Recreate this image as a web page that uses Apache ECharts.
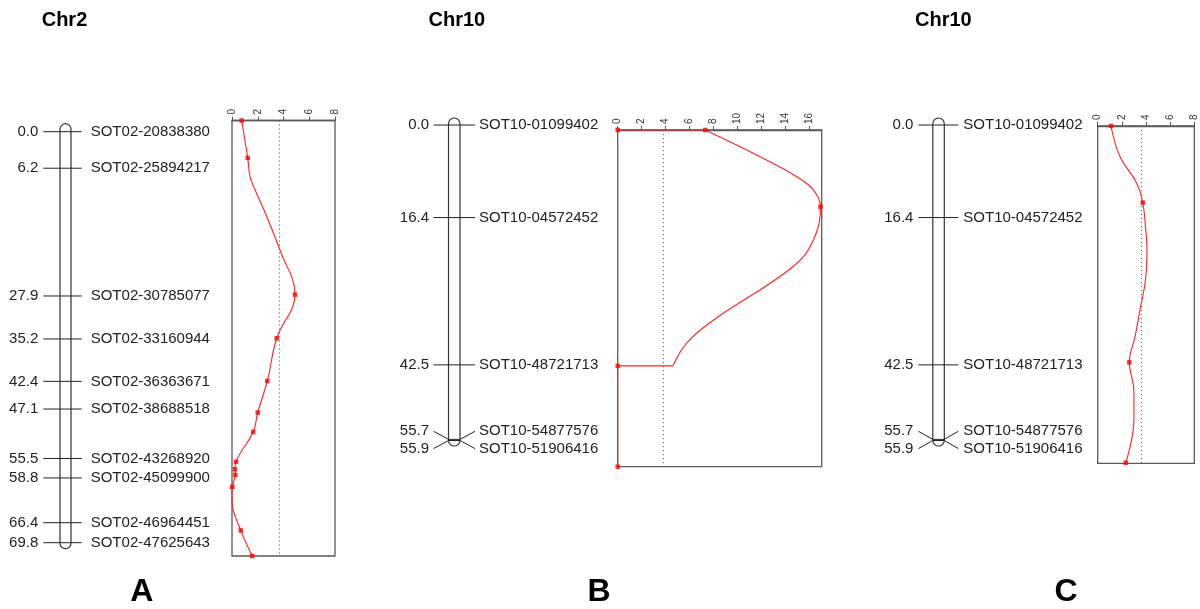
<!DOCTYPE html>
<html><head><meta charset="utf-8">
<script src="https://cdn.jsdelivr.net/npm/echarts@6/dist/echarts.min.js"></script>
<style>html,body{margin:0;padding:0;background:#fff}#c{width:1200px;height:609px}</style>
</head><body><div id="c"></div>
<script>
// ---------- data ----------
const chrTitles = ['Chr2', 'Chr10', 'Chr10'];
const panelLetters = ['A', 'B', 'C'];

const chrA_pos = [0.0, 6.2, 27.9, 35.2, 42.4, 47.1, 55.5, 58.8, 66.4, 69.8];
const chrA_names = ['SOT02-20838380', 'SOT02-25894217', 'SOT02-30785077', 'SOT02-33160944', 'SOT02-36363671',
  'SOT02-38688518', 'SOT02-43268920', 'SOT02-45099900', 'SOT02-46964451', 'SOT02-47625643'];
const chrB_pos = [0.0, 16.4, 42.5, 55.7, 55.9];
const chrB_names = ['SOT10-01099402', 'SOT10-04572452', 'SOT10-48721713', 'SOT10-54877576', 'SOT10-51906416'];
const chrC_pos = [0.0, 16.4, 42.5, 55.7, 55.9];
const chrC_names = ['SOT10-01099402', 'SOT10-04572452', 'SOT10-48721713', 'SOT10-54877576', 'SOT10-51906416'];

// LOD scan points (dots) and the curve
const aDotPos = [0, 6.0, 27.9, 34.9, 41.75, 46.8, 49.9, 54.7, 55.9, 56.8, 58.7, 65.7, 69.8];
const aDotLod = [0.75, 1.22, 4.89, 3.47, 2.74, 2.0, 1.65, 0.31, 0.23, 0.26, 0.02, 0.68, 1.58];
const aCurvePos = [0, 6.0, 9.0, 11.1, 15.4, 20.8, 27.9, 34.9, 41.75, 46.8, 49.9, 54.7, 55.9, 56.8, 58.7, 61.0, 65.7, 69.8];
const aCurveLod = [0.75, 1.22, 1.40, 1.79, 2.70, 3.73, 4.89, 3.47, 2.74, 2.0, 1.65, 0.31, 0.23, 0.26, 0.02, 0.0, 0.68, 1.58];

const bDotPos = [0, 0, 13.85, 42.6, 60.8];
const bDotLod = [0, 7.3, 16.9, 0, 0];
const bCurvePos = [0, 0, 5.4, 8.4, 10.8, 13.85, 19.9, 24.7, 34.3, 38.5, 42.6, 42.6, 60.8];
const bCurveLod = [0, 7.3, 12.4, 14.9, 16.3, 16.9, 16.3, 14.6, 8.0, 5.75, 4.6, 0, 0];

const cDotPos = [0, 13.8, 42.6, 60.7];
const cDotLod = [1.1, 3.73, 2.62, 2.32];
const cCurvePos = [0, 5.5, 10.3, 13.8, 17.5, 22.4, 27.8, 33.2, 38.0, 42.6, 47.9, 53.0, 60.7];
const cCurveLod = [1.1, 1.84, 3.23, 3.73, 3.93, 4.08, 3.95, 3.5, 3.09, 2.62, 3.0, 3.0, 2.32];

const lodMax = [8, 17, 8];
const lodScanMax = [69.8, 60.8, 60.8];
const thresholds = [3.7, 3.8, 3.6];

// ---------- layout / style ----------
const FONT = '"Liberation Sans", Arial, sans-serif';
const chromGrids = [
  {left: 60, top: 131.7, width: 11, height: 411},
  {left: 448.5, top: 125, width: 11.5, height: 315.5},
  {left: 932.8, top: 125, width: 11.5, height: 315.5}
];
const lodGrids = [
  {left: 232, top: 120.5, width: 103, height: 435.5},
  {left: 617.7, top: 130, width: 204, height: 336.7},
  {left: 1097.7, top: 126, width: 96.6, height: 337.3}
];
const chromCfg = [
  {lineL: 16.7, lineR: 10.7, numGap: 5, nameGap: 9, padTop: 8, padBot: 6},
  {lineL: 15, lineR: 15, numGap: 4.5, nameGap: 4, padTop: 7, padBot: 5.5},
  {lineL: 14.4, lineR: 14, numGap: 5, nameGap: 5, padTop: 7, padBot: 5.5}
];

const chroms = [
  {pos: chrA_pos, names: chrA_names},
  {pos: chrB_pos, names: chrB_names},
  {pos: chrC_pos, names: chrC_names}
];

function spread(ys, gap) {
  let groups = ys.map((y, i) => ({idx: [i], c: y}));
  let merged = true;
  while (merged) {
    merged = false;
    for (let k = 0; k < groups.length - 1; k++) {
      const g1 = groups[k], g2 = groups[k + 1];
      const e1 = g1.c + (g1.idx.length - 1) * gap / 2;
      const s2 = g2.c - (g2.idx.length - 1) * gap / 2;
      if (s2 - e1 < gap) {
        const idx = g1.idx.concat(g2.idx);
        const c = idx.reduce((s, i) => s + ys[i], 0) / idx.length;
        groups.splice(k, 2, {idx, c});
        merged = true;
        break;
      }
    }
  }
  const out = ys.slice();
  groups.forEach(g => {
    const n = g.idx.length;
    g.idx.forEach((i, k) => { out[i] = g.c - (n - 1) * gap / 2 + k * gap; });
  });
  return out;
}

const grid = [], xAxis = [], yAxis = [], series = [];

chroms.forEach((ch, ci) => {
  grid.push(Object.assign({show: false}, chromGrids[ci]));
  xAxis.push({gridIndex: ci, type: 'value', min: 0, max: 1, show: false});
  yAxis.push({gridIndex: ci, type: 'value', min: 0, max: ch.pos[ch.pos.length - 1], inverse: true, show: false});
  const cfg = chromCfg[ci];
  // chromosome body
  series.push({
    type: 'custom', xAxisIndex: ci, yAxisIndex: ci, z: 2, silent: true,
    data: [[0, ch.pos[ch.pos.length - 1]]],
    renderItem: function (params, api) {
      const p0 = api.coord([0, 0]);
      const p1 = api.coord([1, api.value(1)]);
      const w = p1[0] - p0[0];
      return {
        type: 'rect',
        shape: {x: p0[0], y: p0[1] - cfg.padTop, width: w, height: p1[1] - p0[1] + cfg.padTop + cfg.padBot, r: w / 2},
        style: {fill: '#fff', stroke: '#333', lineWidth: 1.2}
      };
    }
  });
  // markers
  series.push({
    type: 'custom', xAxisIndex: ci, yAxisIndex: ci, z: 3, silent: true,
    data: ch.pos.map(p => [0, p]),
    renderItem: function (params, api) {
      const i = params.dataIndex;
      const ys = ch.pos.map(p => api.coord([0, p])[1]);
      const ly = spread(ys, 17.3);
      const xl = api.coord([0, 0])[0], xr = api.coord([1, 0])[0];
      const y = ys[i], yl = ly[i];
      return {
        type: 'group',
        children: [
          {type: 'polyline', shape: {points: [[xl - cfg.lineL, yl], [xl, y], [xr, y], [xr + cfg.lineR, yl]]},
            style: {stroke: '#222', lineWidth: 1, fill: null}},
          {type: 'text', style: {text: ch.pos[i].toFixed(1), x: xl - cfg.lineL - cfg.numGap, y: yl,
            align: 'right', textAlign: 'right', verticalAlign: 'middle', textVerticalAlign: 'middle',
            font: '15px ' + FONT, fill: '#222'}},
          {type: 'text', style: {text: ch.names[i], x: xr + cfg.lineR + cfg.nameGap, y: yl,
            align: 'left', textAlign: 'left', verticalAlign: 'middle', textVerticalAlign: 'middle',
            font: '15px ' + FONT, fill: '#222'}}
        ]
      };
    }
  });
});

const lodData = [
  {dp: aDotPos, dl: aDotLod, cp: aCurvePos, cl: aCurveLod},
  {dp: bDotPos, dl: bDotLod, cp: bCurvePos, cl: bCurveLod},
  {dp: cDotPos, dl: cDotLod, cp: cCurvePos, cl: cCurveLod}
];

lodData.forEach((d, li) => {
  const gi = 3 + li;
  grid.push(Object.assign({show: true, borderColor: '#5a5a5a', borderWidth: 1.3, backgroundColor: 'transparent'}, lodGrids[li]));
  xAxis.push({
    gridIndex: gi, type: 'value', position: 'top', min: 0, max: lodMax[li], interval: 2,
    axisLine: {show: true, onZero: false, lineStyle: {color: '#5a5a5a', width: 1.3}},
    axisTick: {show: true, length: 4, lineStyle: {color: '#555', width: 1}},
    axisLabel: {rotate: -90, fontSize: 10, color: '#333', margin: 6, fontFamily: FONT, showMaxLabel: lodMax[li] % 2 === 0},
    splitLine: {show: false}
  });
  yAxis.push({gridIndex: gi, type: 'value', min: 0, max: lodScanMax[li], inverse: true, show: false});
  const pts = d.cp.map((p, k) => [d.cl[k], p]);
  const lineStyle = {color: '#ff2020', width: 1.1};
  const markLine = {silent: true, symbol: 'none', label: {show: false}, data: [{xAxis: thresholds[li]}],
    lineStyle: {type: [1.2, 2.8], color: '#666', width: 1}};
  const base = {type: 'line', xAxisIndex: gi, yAxisIndex: gi, showSymbol: false, symbol: 'none', silent: true, z: 4, lineStyle};
  if (li === 1) {
    series.push(Object.assign({}, base, {data: pts.slice(0, 2), smooth: false, markLine}));
    series.push(Object.assign({}, base, {data: pts.slice(1, pts.length - 2), smooth: 0.4}));
    series.push(Object.assign({}, base, {data: pts.slice(pts.length - 3), smooth: false}));
  } else {
    series.push(Object.assign({}, base, {data: pts, smooth: 0.4, markLine}));
  }
  series.push({
    type: 'scatter', xAxisIndex: gi, yAxisIndex: gi, silent: true, z: 5,
    symbol: 'rect', symbolSize: 4.5, itemStyle: {color: '#ff0000'},
    data: d.dp.map((p, k) => [d.dl[k], p])
  });
});

const graphic = [];
const titleX = [41.7, 428.5, 915];
const letterX = [141.7, 599, 1066];
chrTitles.forEach((t, i) => {
  graphic.push({type: 'text', x: titleX[i], y: 20.5, silent: true,
    style: {text: t, font: 'bold 20px ' + FONT, fill: '#000', textVerticalAlign: 'middle', verticalAlign: 'middle'}});
});
panelLetters.forEach((t, i) => {
  graphic.push({type: 'text', x: letterX[i], y: 592.5, silent: true,
    style: {text: t, font: 'bold 32px ' + FONT, fill: '#000', textAlign: 'center', align: 'center',
      textVerticalAlign: 'middle', verticalAlign: 'middle'}});
});

const chart = echarts.init(document.getElementById('c'), null, {renderer: 'canvas'});
chart.setOption({animation: false, backgroundColor: '#fff', grid, xAxis, yAxis, series, graphic});
</script></body></html>
